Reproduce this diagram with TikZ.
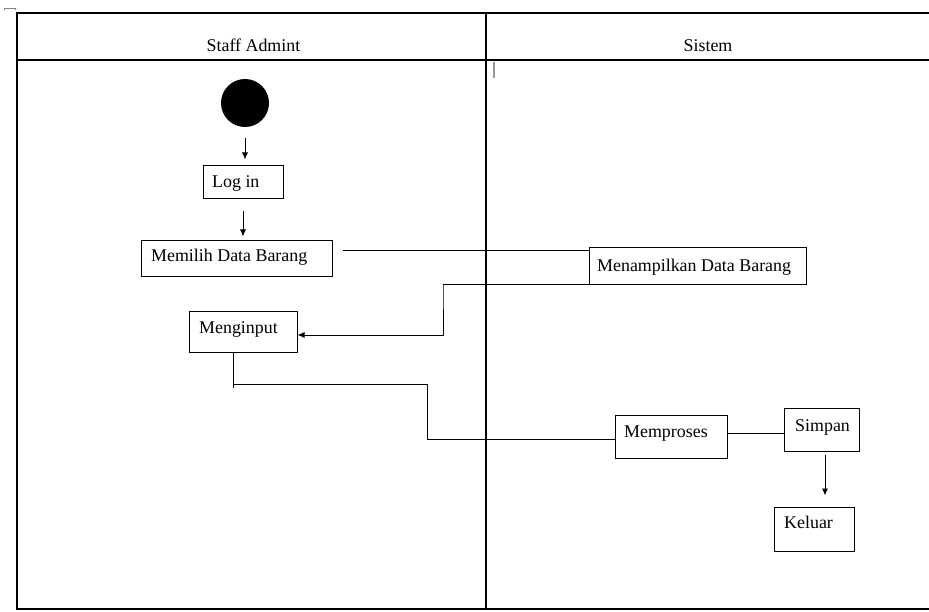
\documentclass[tikz,border=0pt]{standalone}
\usepackage{fontspec}
\setmainfont{Liberation Serif}
\usetikzlibrary{arrows.meta}

\begin{document}
\begin{tikzpicture}[x=1pt,y=-1pt,
    lane/.style={line width=1.1pt, draw=black},
    box/.style={draw=black, line width=1pt, rectangle, inner sep=0pt},
    txt/.style={font=\fontsize{17.9}{21}\selectfont, inner sep=0pt, anchor=base west},
    title/.style={font=\fontsize{17.9}{21}\selectfont, inner sep=0pt, anchor=base},
    flow/.style={line width=0.9pt, draw=black},
    arr/.style={flow, -{Latex[length=7pt,width=6pt]}}]

  % canvas
  \useasboundingbox (0,0) rectangle (929,612);

  % swimlane frame
  \draw[lane] (929,13) -- (17,13) -- (17,609) -- (929,609);
  \draw[lane] (17,60) -- (929,60);
  \draw[lane] (486,13) -- (486,609);
  \draw[gray, line width=0.6pt] (4,10) -- (4,8) -- (15,8) -- (15,10);
  \draw[gray!80, line width=1.4pt] (494,62) -- (494,78);

  % lane titles
  \node[title] (laneA) at (253.5,52) {Staff Admint};
  \node[title] (laneB) at (708,52) {Sistem};

  % start
  \node[circle, fill=black, minimum size=48pt, inner sep=0pt] (start) at (245,103) {};

  % action boxes
  \node[box, minimum width=80pt,  minimum height=33pt] (login)   at (243,182.5) {};
  \node[box, minimum width=191pt, minimum height=36pt] (memilih) at (236.5,259) {};
  \node[box, minimum width=217pt, minimum height=37pt] (tampil)  at (697.5,266.5) {};
  \node[box, minimum width=108pt, minimum height=40pt] (input)   at (243,332) {};
  \node[box, minimum width=112pt, minimum height=43pt] (proses)  at (671,436.5) {};
  \node[box, minimum width=75pt,  minimum height=43pt] (simpan)  at (821.5,429.5) {};
  \node[box, minimum width=80pt,  minimum height=44pt] (keluar)  at (814,529) {};

  % box labels
  \node[txt] (login-t)   at (212,188) {Log in};
  \node[txt] (memilih-t) at (151,262) {Memilih Data Barang};
  \node[txt] (tampil-t)  at (597,272) {Menampilkan Data Barang};
  \node[txt] (input-t)   at (199,334) {Menginput};
  \node[txt] (proses-t)  at (624,437) {Memproses};
  \node[txt] (simpan-t)  at (795,431) {Simpan};
  \node[txt] (keluar-t)  at (784,528) {Keluar};

  % bend points
  \coordinate (b1) at (443,284);
  \coordinate (j0) at (233,384);
  \coordinate (j1) at (233,388);
  \coordinate (j2) at (427,384);
  \coordinate (m0) at ([xshift=10,yshift=9]memilih.east);

  % flows
  \draw[arr, shorten <=11pt, shorten >=6pt] (start.south) -- (start.south |- login.north);
  \draw[arr, shorten <=12pt, shorten >=4pt] (login.south) -- (login.south |- memilih.north);
  \draw[flow] (m0) -- (m0 -| tampil.west);
  \draw[arr] ([yshift=1]tampil.south west) -| (b1) |- ([yshift=-3]input.east);
  \draw[flow] ([xshift=-10]input.south) -- (j1);
  \draw[flow] (j0) -- (j2) |- ([yshift=-2.5]proses.west);
  \draw[flow] ([yshift=3.5]proses.east) -- ([yshift=3.5]proses.east -| simpan.west);
  \draw[arr, shorten <=3pt, shorten >=11pt] ([xshift=3.5]simpan.south) -- ([xshift=3.5]simpan.south |- keluar.north);
\end{tikzpicture}
\end{document}
